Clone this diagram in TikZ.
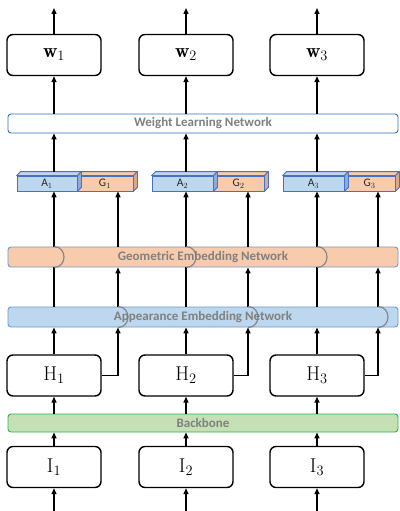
\documentclass[tikz,border=0pt]{standalone}
\usepackage{fontspec}
\newfontfamily\calfont{Carlito}
\usetikzlibrary{arrows.meta,calc}
\definecolor{barblue}{HTML}{BDD7EE}
\definecolor{barorange}{HTML}{F8CBAD}
\definecolor{barborder}{HTML}{6F97D0}
\definecolor{wlnborder}{HTML}{2E75B6}
\definecolor{bbfill}{HTML}{C5E0B4}
\definecolor{bbborder}{HTML}{2DB34A}
\definecolor{cubeborder}{HTML}{4472C4}
\definecolor{sideblue}{HTML}{8FAADC}
\definecolor{sideorange}{HTML}{D9A98C}
\definecolor{bartext}{HTML}{808080}
\definecolor{arcgrey}{HTML}{7A7A7A}
\tikzset{
  mainbox/.style={draw=black, line width=1.4pt, rounded corners=6pt, fill=white,
    minimum width=94pt, minimum height=41pt, inner sep=0pt,
    font=\fontsize{20}{24}\selectfont},
  bar/.style={line width=0.9pt, rounded corners=3pt, minimum width=390pt,
    inner sep=0pt, text=bartext, font=\calfont\bfseries\fontsize{13}{15}\selectfont},
  cube/.style={draw=cubeborder, line width=0.8pt, minimum height=15pt, inner sep=0pt,
    font=\calfont\fontsize{11.5}{13}\selectfont, text=black!85},
  arr/.style={line width=1.4pt, -{Triangle[length=6pt,width=5pt]}},
  plain/.style={line width=1.4pt},
  hop/.style={draw=arcgrey, line width=1.2pt, opacity=0.85},
}
\begin{document}
\begin{tikzpicture}[x=1pt,y=-1pt]
\useasboundingbox (0,0) rectangle (399,511);
% column coordinates
\coordinate (c1) at (54,0);
\coordinate (c2) at (186,0);
\coordinate (c3) at (317,0);
\coordinate (g1) at (118,0);
\coordinate (g2) at (248,0);
\coordinate (g3) at (378,0);
% bars
\node[bar, draw=wlnborder, fill=white, minimum height=19pt] (WLN) at (203,123.5) {Weight Learning Network};
\node[bar, draw=barborder, fill=barorange, minimum height=20pt] (Geo) at (203,257) {Geometric Embedding Network};
\node[bar, draw=barborder, fill=barblue, minimum height=20pt] (App) at (203,317) {Appearance Embedding Network};
\node[bar, draw=bbborder, fill=bbfill, minimum height=18pt] (BB) at (203,423) {Backbone};
% main boxes
\node[mainbox] (W1) at (54,55) {$\mathbf{w}_1$};
\node[mainbox] (W2) at (186,55) {$\mathbf{w}_2$};
\node[mainbox] (W3) at (317,55) {$\mathbf{w}_3$};
\node[mainbox] (H1) at (54,375.5) {$\mathrm{H}_1$};
\node[mainbox] (H2) at (186,375.5) {$\mathrm{H}_2$};
\node[mainbox] (H3) at (317,375.5) {$\mathrm{H}_3$};
\node[mainbox] (I1) at (54,467) {$\mathrm{I}_1$};
\node[mainbox] (I2) at (186,467) {$\mathrm{I}_2$};
\node[mainbox] (I3) at (317,467) {$\mathrm{I}_3$};
% cubes: G first then A
\newcommand{\cubefaces}[3]{%
  \fill[#2, draw=cubeborder, line width=0.8pt, line join=round]
    (#1.north west) -- ++(4,-4) -- ($(#1.north east)+(4,-4)$) -- (#1.north east) -- cycle;
  \fill[#3, draw=cubeborder, line width=0.8pt, line join=round]
    (#1.north east) -- ++(4,-4) -- ($(#1.south east)+(4,-4)$) -- (#1.south east) -- cycle;
}
\node[cube, fill=barorange, minimum width=56pt] (G1) at (105,183.5) {G$_1$};
\cubefaces{G1}{barorange}{sideorange}
\node[cube, fill=barblue, minimum width=60pt] (A1) at (47,183.5) {A$_1$};
\cubefaces{A1}{barblue}{sideblue}
\node[cube, fill=barorange, minimum width=51pt] (G2) at (238.5,183.5) {G$_2$};
\cubefaces{G2}{barorange}{sideorange}
\node[cube, fill=barblue, minimum width=61pt] (A2) at (182.5,183.5) {A$_2$};
\cubefaces{A2}{barblue}{sideblue}
\node[cube, fill=barorange, minimum width=51pt] (G3) at (369.5,183.5) {G$_3$};
\cubefaces{G3}{barorange}{sideorange}
\node[cube, fill=barblue, minimum width=61pt] (A3) at (313.5,183.5) {A$_3$};
\cubefaces{A3}{barblue}{sideblue}
% top and bottom free ends
\coordinate (t1) at (54,8);
\coordinate (t2) at (186,8);
\coordinate (t3) at (317,8);
\coordinate (b1) at (54,511);
\coordinate (b2) at (186,511);
\coordinate (b3) at (317,511);
% connectors
\foreach \i in {1,2,3}{
  \draw[arr] (b\i) -- (I\i.south);
  \draw[arr] (I\i.north) -- (BB.south -| I\i.north);
  \draw[arr] (BB.north -| H\i.south) -- (H\i.south);
  \draw[arr] (H\i.north) -- (App.south -| H\i.north);
  \draw[arr] (H\i.east) -| (App.south -| g\i);
  \draw[plain] (App.north -| c\i) -- (Geo.south -| c\i);
  \draw[arr] (App.north -| g\i) -- (Geo.south -| g\i);
  \draw[arr] (Geo.north -| c\i) -- (A\i.south -| c\i);
  \draw[arr] (Geo.north -| g\i) -- (G\i.south -| g\i);
  \draw[arr] ([yshift=4pt]A\i.north -| c\i) -- (WLN.south -| c\i);
  \draw[arr] (WLN.north -| W\i.south) -- (W\i.south);
  \draw[arr] (W\i.north) -- (t\i);
  % hops
  \draw[hop] (Geo.north -| c\i) .. controls ($(Geo.north -| c\i)+(13.3,0)$) and ($(Geo.south -| c\i)+(13.3,0)$) .. (Geo.south -| c\i);
  \draw[hop] (App.north -| g\i) .. controls ($(App.north -| g\i)+(13.3,0)$) and ($(App.south -| g\i)+(13.3,0)$) .. (App.south -| g\i);
}
\end{tikzpicture}
\end{document}
